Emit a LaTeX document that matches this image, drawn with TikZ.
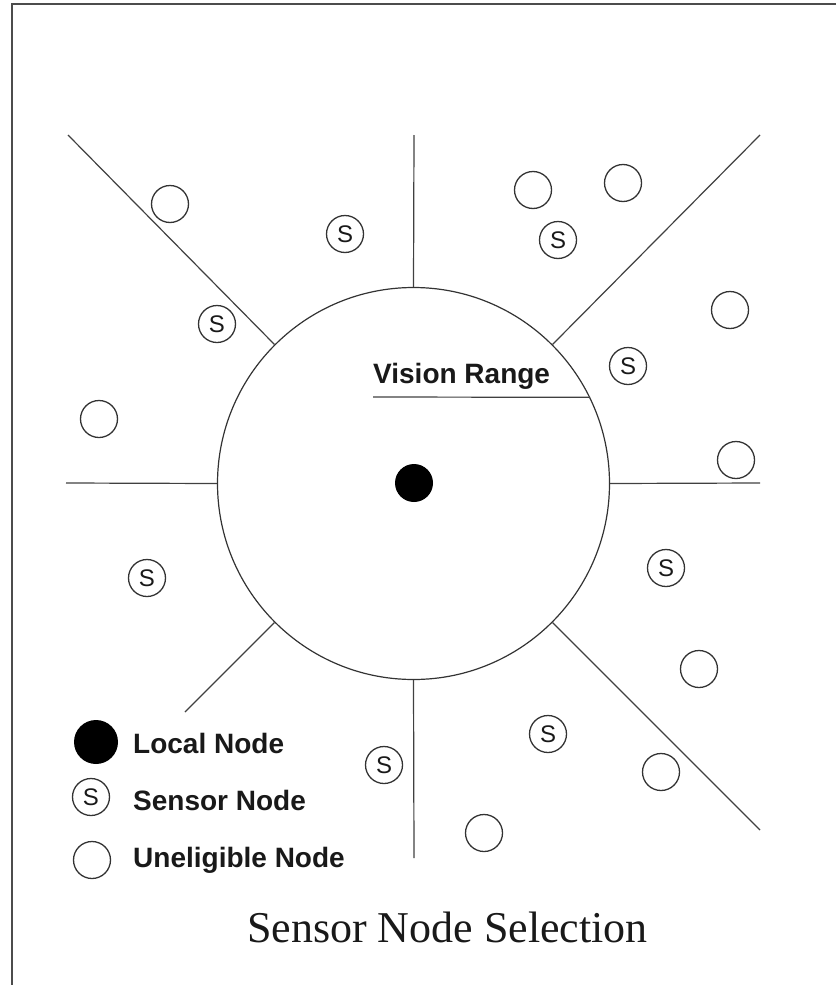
\documentclass[tikz,border=0pt]{standalone}
\usepackage{fontspec}
\setmainfont{Liberation Serif}
\setsansfont{Liberation Sans}
\begin{document}
\begin{tikzpicture}[x=1pt,y=-1pt,
  wire/.style={line width=1.2pt, black!75},
  freenode/.style={circle, draw=black!80, line width=1.3pt, minimum size=37pt, inner sep=0pt},
  sensnode/.style={freenode, font=\sffamily\fontsize{24}{24}\selectfont, text=black!90},
  legtext/.style={font=\sffamily\bfseries\fontsize{28}{30}\selectfont, text=black!90, inner sep=0pt, anchor=base west},
]
\useasboundingbox (0,0) rectangle (836,985);
\draw[line width=2pt, black!70] (836,4) -- (12,4) -- (12,985);

% vision range circle
\node[circle, draw=black!80, line width=1.2pt, minimum size=392pt, inner sep=0pt] (range) at (413.5,483.5) {};
\node[circle, fill=black, minimum size=38pt, inner sep=0pt] (local) at (414,483) {};

% sector lines
\coordinate (tN) at (414,135);
\coordinate (tS) at (414,858);
\coordinate (tW) at (66,483);
\coordinate (tE) at (760,483);
\coordinate (tNW) at (68,135);
\coordinate (tNE) at (760,135);
\coordinate (tSW) at (185,712);
\coordinate (tSE) at (760,830);
\draw[wire] (range.north) -- (tN);
\draw[wire] (range.south) -- (tS);
\draw[wire] (range.west) -- (tW);
\draw[wire] (range.east) -- (tE);
\draw[wire] (range.north west) -- (tNW);
\draw[wire] (range.north east) -- (tNE);
\draw[wire] (range.south west) -- (tSW);
\draw[wire] (range.south east) -- (tSE);

% vision range label
\coordinate (vr) at (373,397);
\draw[wire] (vr) -- (range.26);
\node[legtext] (vrtext) at (373,383) {Vision Range};

% uneligible nodes
\node[freenode] (u1) at (170,204) {};
\node[freenode] (u2) at (533,190) {};
\node[freenode] (u3) at (623,183) {};
\node[freenode] (u4) at (730,310) {};
\node[freenode] (u5) at (99,419) {};
\node[freenode] (u6) at (736,460) {};
\node[freenode] (u7) at (699,669) {};
\node[freenode] (u8) at (661,772) {};
\node[freenode] (u9) at (484,833) {};

% sensor nodes
\node[sensnode] (s1) at (345,234) {S};
\node[sensnode] (s2) at (217,324) {S};
\node[sensnode] (s3) at (558,240) {S};
\node[sensnode] (s4) at (628,366) {S};
\node[sensnode] (s5) at (147,578) {S};
\node[sensnode] (s6) at (666,568) {S};
\node[sensnode] (s7) at (548,734) {S};
\node[sensnode] (s8) at (384,765) {S};

% legend
\node[circle, fill=black, minimum size=44pt, inner sep=0pt] (lgLocal) at (96,742) {};
\node[sensnode] (lgSensor) at (91,797) {S};
\node[freenode] (lgFree) at (92,860) {};
\node[legtext] (lgt1) at (133,753) {Local Node};
\node[legtext] (lgt2) at (133,810) {Sensor Node};
\node[legtext] (lgt3) at (133,867) {Uneligible Node};

% caption
\node[font=\fontsize{44}{46}\selectfont, anchor=base, inner sep=0pt, text=black!90] (caption) at (447.5,942) {Sensor Node Selection};
\end{tikzpicture}
\end{document}
